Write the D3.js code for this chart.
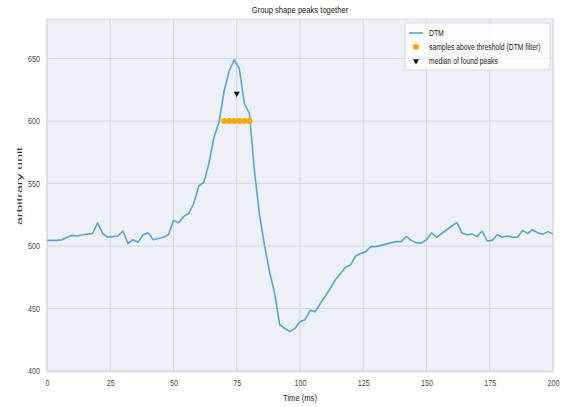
<!DOCTYPE html>
<html>
<head>
<meta charset="utf-8">
<script src="https://cdn.jsdelivr.net/npm/d3@7"></script>
<style>
  html, body { margin: 0; padding: 0; background: #ffffff; }
  svg text { font-family: "Liberation Sans", Arial, sans-serif; }
</style>
</head>
<body>
<svg id="chart" width="561" height="407"></svg>
<script>
// Sample times (ms), sampled every 2 ms
const timeMs = d3.range(0, 201, 2);

// Group-average DTM trace
const dtmValues = [
  504.5, 504.5, 504.5, 505, 507, 508.5, 508, 509, 509.5, 510,
  518.5, 510, 507, 507.5, 508, 512, 502, 505, 503, 509,
  510.5, 505, 506, 507, 509, 520.5, 518.5, 523.5, 526, 534,
  548, 551, 566, 587, 599, 624, 640, 649, 642, 614,
  606, 560, 525, 500, 479, 462, 437, 434, 431.5, 434,
  439.5, 441, 448.5, 447.5, 454, 460, 466, 473, 478, 483,
  485, 492, 494, 495.5, 499.5, 499.5, 500.5, 501.5, 502.5, 503.5,
  503.5, 507.5, 504.5, 502.5, 502.5, 505, 510.5, 507, 510, 513,
  516, 518.7, 510.5, 509, 509.5, 507.5, 512, 504, 504.5, 509,
  507, 508, 507, 507, 512.5, 510, 513, 510.5, 509.5, 511.5,
  509.5
];

const threshold = 600;
const medianPeak = { t: 75, v: 622 };

const xTicks = [0, 25, 50, 75, 100, 125, 150, 175, 200];
const yTicks = [400, 450, 500, 550, 600, 650];

const legendLabels = ["DTM", "samples above threshold (DTM filter)", "median of found peaks"];

const dtm = timeMs.map((t, i) => ({ t, v: dtmValues[i] }));
const aboveThreshold = dtm.filter(d => d.v > threshold);

const svg = d3.select("#chart");
const plot = { left: 47, right: 553, top: 19, bottom: 372 };

const x = d3.scaleLinear().domain([0, 200]).range([plot.left, plot.right]);
const y = d3.scaleLinear().domain([399.2, 681.6]).range([plot.bottom, plot.top]);

// Axes background
svg.append("rect")
  .attr("x", plot.left).attr("y", plot.top)
  .attr("width", plot.right - plot.left).attr("height", plot.bottom - plot.top)
  .attr("fill", "#edf0f6");

// Grid lines
const grid = svg.append("g").attr("stroke", "#d3d6dd").attr("stroke-width", 1);
grid.selectAll(".gx").data(xTicks).join("line")
  .attr("x1", d => x(d)).attr("x2", d => x(d))
  .attr("y1", plot.top).attr("y2", plot.bottom);
grid.selectAll(".gy").data(yTicks).join("line")
  .attr("x1", plot.left).attr("x2", plot.right)
  .attr("y1", d => y(d)).attr("y2", d => y(d));

// Plot frame
svg.append("rect")
  .attr("x", plot.left).attr("y", plot.top)
  .attr("width", plot.right - plot.left).attr("height", plot.bottom - plot.top)
  .attr("fill", "none").attr("stroke", "#d9dce2").attr("stroke-width", 1);

// Axes (tick labels only)
const xAxis = svg.append("g")
  .attr("transform", `translate(0,${plot.bottom})`)
  .call(d3.axisBottom(x).tickValues(xTicks).tickSize(0).tickPadding(8).tickFormat(d3.format("d")));
const yAxis = svg.append("g")
  .attr("transform", `translate(${plot.left},0)`)
  .call(d3.axisLeft(y).tickValues(yTicks).tickSize(0).tickPadding(7).tickFormat(d3.format("d")));
[xAxis, yAxis].forEach(a => {
  a.select(".domain").remove();
  a.selectAll("text").attr("fill", "#4a4a4a").attr("font-size", 9)
    .attr("font-family", "'Liberation Sans', Arial, sans-serif");
});

// DTM line
svg.append("path")
  .datum(dtm)
  .attr("fill", "none")
  .attr("stroke", "#5da4cf")
  .attr("stroke-width", 1.6)
  .attr("stroke-linejoin", "round")
  .attr("d", d3.line().x(d => x(d.t)).y(d => y(d.v)));

// Samples above threshold, drawn at threshold level
svg.append("g").selectAll("circle").data(aboveThreshold).join("circle")
  .attr("cx", d => x(d.t)).attr("cy", y(threshold))
  .attr("r", 3).attr("fill", "#ffa500");

// Median of found peaks marker
const tri = d3.symbol().type(d3.symbolTriangle).size(16);
svg.append("path")
  .attr("d", tri())
  .attr("transform", `translate(${x(medianPeak.t)},${y(medianPeak.v)}) rotate(180)`)
  .attr("fill", "#111");

// Title and x label (condensed glyphs)
const hTexts = [];
hTexts.push(svg.append("text").attr("x", (plot.left + plot.right) / 2).attr("y", 13)
  .attr("text-anchor", "middle").attr("font-size", 9.5).attr("fill", "#222")
  .text("Group shape peaks together"));
hTexts.push(svg.append("text").attr("x", (plot.left + plot.right) / 2).attr("y", 401)
  .attr("text-anchor", "middle").attr("font-size", 9.5).attr("fill", "#222")
  .text("Time (ms)"));

// Legend
const lg = svg.append("g").attr("transform", "translate(405,23)");
lg.append("rect").attr("width", 145).attr("height", 47).attr("rx", 2.5)
  .attr("fill", "#ffffff").attr("fill-opacity", 0.8)
  .attr("stroke", "#d5d8de").attr("stroke-width", 1);
const rowY = [10, 24, 38];
lg.append("line").attr("x1", 4).attr("x2", 18).attr("y1", rowY[0]).attr("y2", rowY[0])
  .attr("stroke", "#5da4cf").attr("stroke-width", 1.6);
lg.append("circle").attr("cx", 11).attr("cy", rowY[1]).attr("r", 3).attr("fill", "#ffa500");
lg.append("path").attr("d", tri())
  .attr("transform", `translate(11,${rowY[2]}) rotate(180)`).attr("fill", "#111");
const legendText = lg.selectAll(".lt").data(legendLabels).join("text")
  .attr("x", 24).attr("y", (d, i) => rowY[i] + 3)
  .attr("font-size", 8.5).attr("fill", "#222")
  .text(d => d);

// Narrow horizontal glyphs to a condensed width
const condense = function () {
  const len = this.getComputedTextLength();
  if (len > 0) {
    d3.select(this).attr("textLength", len * 0.8).attr("lengthAdjust", "spacingAndGlyphs");
  }
};
xAxis.selectAll("text").each(condense);
yAxis.selectAll("text").each(condense);
legendText.each(condense);
hTexts.forEach(t => t.each(condense));

// Y label: vertical text with narrowed glyph height
svg.append("text")
  .attr("transform", `translate(22,186) scale(0.8,1) rotate(-90)`)
  .attr("text-anchor", "middle").attr("font-size", 10).attr("fill", "#333")
  .attr("textLength", 78).attr("lengthAdjust", "spacingAndGlyphs")
  .text("arbitrary unit");
</script>
</body>
</html>
